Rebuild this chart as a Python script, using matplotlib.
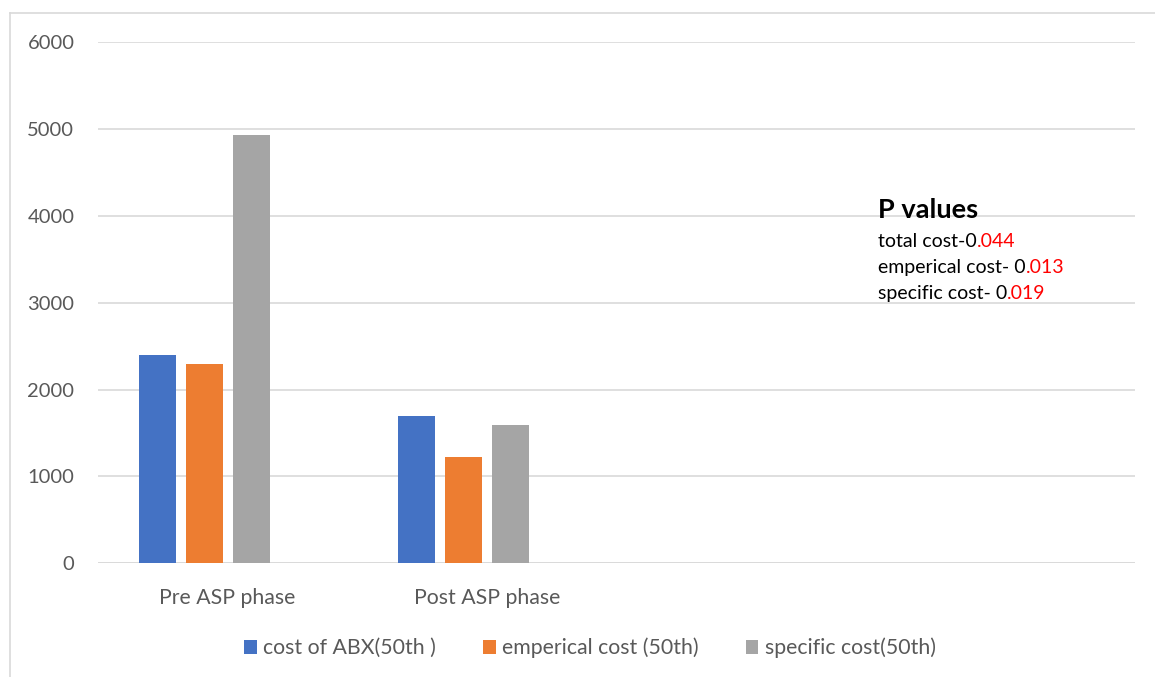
import matplotlib.pyplot as plt
import numpy as np

plt.rcParams['font.family'] = ['Lato', 'DejaVu Sans']

# categories on the x axis (last two slots are left empty)
categories = ["Pre ASP phase", "Post ASP phase", "", ""]

# median costs per phase
abx_cost = [2400, 1690]
emperical_cost = [2300, 1225]
specific_cost = [4930, 1590]

series_names = ["cost of ABX(50th )", "emperical cost (50th)", "specific cost(50th)"]
series_colors = ["#4472C4", "#ED7D31", "#A5A5A5"]

# p values: black part, red part
p_lines = [("total cost-0", ".044"),
           ("emperical cost- 0", ".013"),
           ("specific cost- 0", ".019")]

W, H = 1155, 677
fig = plt.figure(figsize=(W / 100, H / 100), dpi=100)
ax = fig.add_axes([98 / W, 1 - 563.3 / H, (1135 - 98) / W, (563.3 - 42.1) / H])

# four slots per category, the fourth one unused
n_slots = 4
pitch = 47 / 259.25
bar_w = 37 / 259.25
x = np.arange(len(abx_cost))
handles = []
for i, (vals, name, col) in enumerate(zip([abx_cost, emperical_cost, specific_cost],
                                          series_names, series_colors)):
    off = (i - (n_slots - 1) / 2) * pitch
    h = ax.bar(x + off, vals, width=bar_w, color=col, label=name, zorder=3)
    handles.append(h)

ax.set_xlim(-0.5, len(categories) - 0.5)
ax.set_ylim(0, 6000)
ax.set_yticks(np.arange(0, 6001, 1000))
ax.set_xticks(np.arange(len(categories)))
ax.set_xticklabels(categories)

ax.yaxis.grid(True, color="#D9D9D9", linewidth=1.2, zorder=0)
ax.set_axisbelow(True)
for s in ax.spines.values():
    s.set_visible(False)
ax.axhline(0, color="#D9D9D9", linewidth=1.2, zorder=2)
ax.tick_params(axis='both', length=0, labelcolor="#595959")
ax.tick_params(axis='y', pad=17, labelsize=14.5)
ax.tick_params(axis='x', pad=18, labelsize=15.3)

# p values block
fig.text(878 / W, 1 - 218.5 / H, "P values", fontsize=19.5, fontweight='bold',
         color="black", va='baseline', ha='left')
y0 = 246.7
for k, (black, red) in enumerate(p_lines):
    t = fig.text(878 / W, 1 - (y0 + 26 * k) / H, black, fontsize=14,
                 color="black", va='baseline', ha='left')
    ax.annotate(red, xy=(1, 0), xycoords=t, fontsize=14, color="red",
                va='bottom', ha='left', annotation_clip=False)

fig.legend(handles=handles, loc='center', bbox_to_anchor=(590 / W, 1 - 648 / H),
           ncol=3, frameon=False, fontsize=15.3, labelcolor="#595959",
           handlelength=0.6, handleheight=0.6, handletextpad=0.3,
           columnspacing=2.2)

# chart area border (top and left edges)
fig.add_artist(plt.Line2D([9.5 / W, 1], [1 - 12.5 / H, 1 - 12.5 / H],
                          transform=fig.transFigure, color="#D9D9D9", linewidth=1.2))
fig.add_artist(plt.Line2D([9.5 / W, 9.5 / W], [0, 1 - 12.5 / H],
                          transform=fig.transFigure, color="#D9D9D9", linewidth=1.2))

fig.savefig("out.png", dpi=100, facecolor="white")
